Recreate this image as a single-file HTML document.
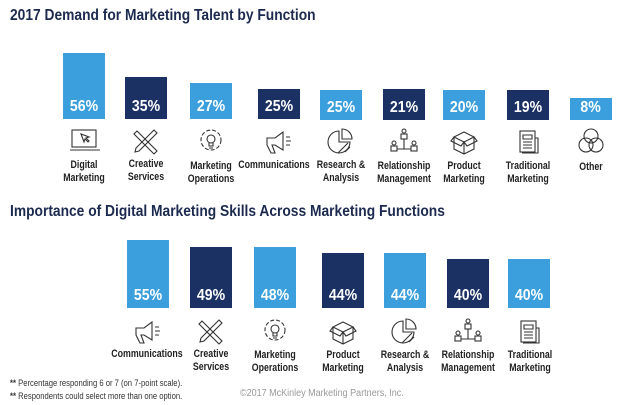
<!DOCTYPE html>
<html><head><meta charset="utf-8"><style>
body{margin:0;width:630px;height:405px;background:#fff;position:relative;overflow:hidden;font-family:"Liberation Sans",sans-serif;}
.t{position:absolute;left:10px;font-weight:bold;color:#1c2a4f;font-size:15.5px;white-space:nowrap;transform:scaleX(.89);transform-origin:0 0;}
.b{position:absolute;color:#fff;font-weight:bold;font-size:16px;text-align:center;display:flex;align-items:flex-end;justify-content:center;box-sizing:border-box;padding-bottom:3px;}
.b span{display:inline-block;transform:scaleX(.88);}
.l{background:#3a9fdc}.d{background:#1b3163}
.lb{position:absolute;width:100px;text-align:center;font-size:11px;font-weight:bold;color:#222;line-height:12.5px;transform:scaleX(.8);}
.fn{position:absolute;left:10px;font-size:9px;color:#333;transform:scaleX(.85);transform-origin:0 0;white-space:nowrap;}
svg.i{position:absolute;width:28px;height:28px;overflow:visible}
svg.i *{fill:none;stroke:#333;stroke-width:1.1}
</style></head><body>
<div class="t" style="top:7px">2017 Demand for Marketing Talent by Function</div>
<div class="t" style="top:203px">Importance of Digital Marketing Skills Across Marketing Functions</div>

<div class="b l" style="left:63px;top:53px;width:42px;height:66px"><span>56%</span></div>
<div class="b d" style="left:125px;top:77px;width:42px;height:42px"><span>35%</span></div>
<div class="b l" style="left:190px;top:83px;width:42px;height:36px"><span>27%</span></div>
<div class="b d" style="left:258px;top:89px;width:42px;height:30px"><span>25%</span></div>
<div class="b l" style="left:320px;top:90px;width:42px;height:30px"><span>25%</span></div>
<div class="b d" style="left:383px;top:89px;width:42px;height:31px"><span>21%</span></div>
<div class="b l" style="left:443px;top:90px;width:42px;height:30px"><span>20%</span></div>
<div class="b d" style="left:507px;top:90px;width:42px;height:30px"><span>19%</span></div>
<div class="b l" style="left:570px;top:98px;width:42px;height:22px"><span>8%</span></div>

<div class="b l" style="left:127px;top:240px;width:42px;height:68px"><span>55%</span></div>
<div class="b d" style="left:190px;top:247px;width:42px;height:61px"><span>49%</span></div>
<div class="b l" style="left:254px;top:247px;width:42px;height:61px"><span>48%</span></div>
<div class="b d" style="left:322px;top:253px;width:42px;height:55px"><span>44%</span></div>
<div class="b l" style="left:384px;top:253px;width:42px;height:55px"><span>44%</span></div>
<div class="b d" style="left:447px;top:259px;width:42px;height:49px"><span>40%</span></div>
<div class="b l" style="left:508px;top:259px;width:42px;height:49px"><span>40%</span></div>

<!-- icons top -->
<svg class="i" style="left:70px;top:128px" viewBox="0 0 28 28"><rect x="2" y="2" width="24" height="17"/><line x1="0" y1="22" x2="30" y2="22"/><path d="M11 6l3 8 1-3 3 3 1-1-3-3 3-1z"/></svg>
<svg class="i" style="left:132px;top:128px" viewBox="0 0 28 28"><path d="M3 24l4-1 18-18-3-3L4 20z"/><path d="M5 3l20 20-3 3L2 6z"/></svg>
<svg class="i" style="left:197px;top:127px" viewBox="0 0 28 28"><circle cx="14" cy="13" r="10" stroke-dasharray="4 2"/><circle cx="14" cy="12" r="4"/><path d="M12 16v3h4v-3M12 21h4"/></svg>
<svg class="i" style="left:265px;top:128px" viewBox="0 0 28 28"><path d="M2 10h8l8-6v18l-8-5H7l3 8H6l-4-8z"/><path d="M21 9h4M21 13h5M21 17h4"/></svg>
<svg class="i" style="left:327px;top:128px" viewBox="0 0 28 28"><path d="M12 3v11h11A11 11 0 1 1 12 3z"/><path d="M15 1v10h10A10 10 0 0 0 15 1z"/><path d="M14 22l7-7M18 24l5-5M11 25l9-9"/></svg>
<svg class="i" style="left:390px;top:128px" viewBox="0 0 28 28"><circle cx="14" cy="3" r="2"/><rect x="11" y="6" width="6" height="5"/><path d="M14 11v10M7 21h14"/><circle cx="4" cy="15" r="2"/><rect x="1" y="18" width="6" height="5"/><circle cx="24" cy="15" r="2"/><rect x="21" y="18" width="6" height="5"/></svg>
<svg class="i" style="left:450px;top:128px" viewBox="0 0 28 28"><path d="M4 9l10-5 10 5-10 5zM4 9v12l10 5 10-5V9M14 14v12M4 9l-3 4 10 5 3-4M24 9l3 4-10 5-3-4"/></svg>
<svg class="i" style="left:514px;top:128px" viewBox="0 0 28 28"><rect x="6" y="3" width="15" height="21"/><path d="M21 10h3v15H8M9 7h9v4H9zM9 14h9M9 17h9M9 20h9"/></svg>
<svg class="i" style="left:577px;top:127px" viewBox="0 0 28 28"><circle cx="14" cy="9" r="7"/><circle cx="9" cy="18" r="7"/><circle cx="19" cy="18" r="7"/></svg>

<!-- icons bottom -->
<svg class="i" style="left:134px;top:318px" viewBox="0 0 28 28"><path d="M2 10h8l8-6v18l-8-5H7l3 8H6l-4-8z"/><path d="M21 9h4M21 13h5M21 17h4"/></svg>
<svg class="i" style="left:197px;top:318px" viewBox="0 0 28 28"><path d="M3 24l4-1 18-18-3-3L4 20z"/><path d="M5 3l20 20-3 3L2 6z"/></svg>
<svg class="i" style="left:261px;top:317px" viewBox="0 0 28 28"><circle cx="14" cy="13" r="10" stroke-dasharray="4 2"/><circle cx="14" cy="12" r="4"/><path d="M12 16v3h4v-3M12 21h4"/></svg>
<svg class="i" style="left:329px;top:318px" viewBox="0 0 28 28"><path d="M4 9l10-5 10 5-10 5zM4 9v12l10 5 10-5V9M14 14v12M4 9l-3 4 10 5 3-4M24 9l3 4-10 5-3-4"/></svg>
<svg class="i" style="left:391px;top:318px" viewBox="0 0 28 28"><path d="M12 3v11h11A11 11 0 1 1 12 3z"/><path d="M15 1v10h10A10 10 0 0 0 15 1z"/><path d="M14 22l7-7M18 24l5-5M11 25l9-9"/></svg>
<svg class="i" style="left:454px;top:318px" viewBox="0 0 28 28"><circle cx="14" cy="3" r="2"/><rect x="11" y="6" width="6" height="5"/><path d="M14 11v10M7 21h14"/><circle cx="4" cy="15" r="2"/><rect x="1" y="18" width="6" height="5"/><circle cx="24" cy="15" r="2"/><rect x="21" y="18" width="6" height="5"/></svg>
<svg class="i" style="left:515px;top:318px" viewBox="0 0 28 28"><rect x="6" y="3" width="15" height="21"/><path d="M21 10h3v15H8M9 7h9v4H9zM9 14h9M9 17h9M9 20h9"/></svg>

<!-- labels top -->
<div class="lb" style="left:34px;top:159px">Digital<br>Marketing</div>
<div class="lb" style="left:96px;top:158px">Creative<br>Services</div>
<div class="lb" style="left:161px;top:160px">Marketing<br>Operations</div>
<div class="lb" style="left:224px;top:159px">Communications</div>
<div class="lb" style="left:291px;top:159px">Research &amp;<br>Analysis</div>
<div class="lb" style="left:354px;top:160px">Relationship<br>Management</div>
<div class="lb" style="left:414px;top:160px">Product<br>Marketing</div>
<div class="lb" style="left:478px;top:160px">Traditional<br>Marketing</div>
<div class="lb" style="left:541px;top:161px">Other</div>

<!-- labels bottom -->
<div class="lb" style="left:97px;top:348px">Communications</div>
<div class="lb" style="left:161px;top:348px">Creative<br>Services</div>
<div class="lb" style="left:225px;top:349px">Marketing<br>Operations</div>
<div class="lb" style="left:293px;top:349px">Product<br>Marketing</div>
<div class="lb" style="left:355px;top:349px">Research &amp;<br>Analysis</div>
<div class="lb" style="left:418px;top:349px">Relationship<br>Management</div>
<div class="lb" style="left:480px;top:349px">Traditional<br>Marketing</div>

<div class="fn" style="top:378px"><b>**</b> Percentage responding 6 or 7 (on 7-point scale).</div>
<div class="fn" style="top:391px"><b>**</b> Respondents could select more than one option.</div>
<div style="position:absolute;left:240px;top:388px;font-size:10px;color:#999;transform:scaleX(.9);transform-origin:0 0;white-space:nowrap;">©2017 McKinley Marketing Partners, Inc.</div>
</body></html>
